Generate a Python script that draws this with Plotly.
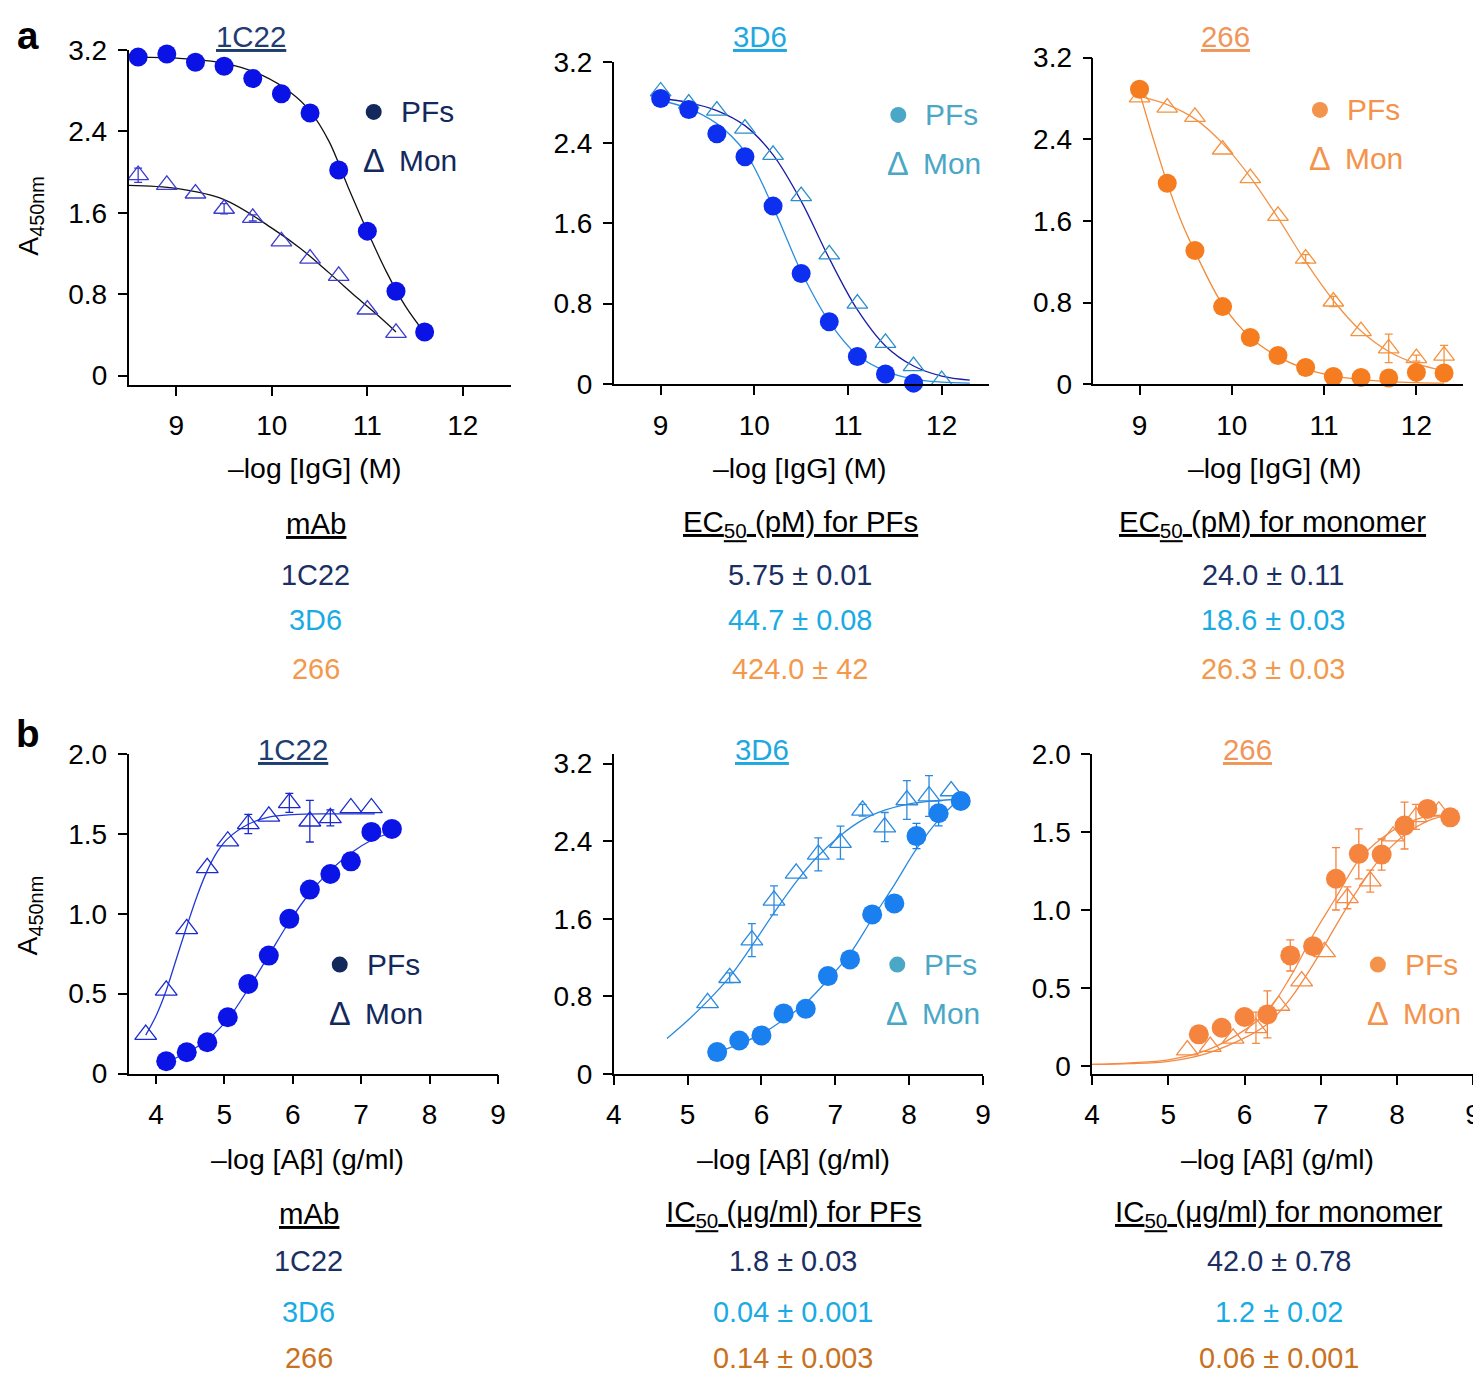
import plotly.graph_objects as go

W, H = 1481, 1381
FONT = "Liberation Sans, Arial, sans-serif"

# ============================================================
# DATA
# ============================================================
# --- panel a: -log [IgG] (M) ---
a1_pf_x = [8.6, 8.9, 9.2, 9.5, 9.8, 10.1, 10.4, 10.7, 11.0, 11.3, 11.6]
a1_pf_y = [3.13, 3.16, 3.08, 3.04, 2.92, 2.77, 2.58, 2.02, 1.42, 0.83, 0.43]
a1_pf_err = [0, 0, 0, 0, 0, 0, 0, 0, 0, 0, 0]
a1_mon_x = [8.6, 8.9, 9.2, 9.5, 9.8, 10.1, 10.4, 10.7, 11.0, 11.3]
a1_mon_y = [1.97, 1.875, 1.79, 1.64, 1.55, 1.32, 1.15, 0.98, 0.65, 0.42]
a1_mon_err = [0.07, 0, 0, 0.05, 0.03, 0, 0, 0, 0, 0]
a1_pf_fit_x = [8.5, 9.0, 9.5, 9.9, 10.2, 10.4, 10.6, 10.8, 11.0, 11.2, 11.4, 11.6]
a1_pf_fit_y = [3.13, 3.12, 3.07, 2.95, 2.78, 2.6, 2.3, 1.85, 1.42, 1.02, 0.68, 0.42]
a1_mon_fit_x = [8.5, 9.0, 9.5, 10.0, 10.3, 10.6, 10.9, 11.1, 11.3]
a1_mon_fit_y = [1.87, 1.84, 1.73, 1.45, 1.25, 1.01, 0.76, 0.6, 0.43]

a2_pf_x = [9.0, 9.3, 9.6, 9.9, 10.2, 10.5, 10.8, 11.1, 11.4, 11.7]
a2_pf_y = [2.84, 2.73, 2.49, 2.26, 1.77, 1.10, 0.62, 0.275, 0.10, 0.01]
a2_pf_err = [0, 0, 0, 0, 0, 0, 0, 0, 0, 0]
a2_mon_x = [9.0, 9.3, 9.6, 9.9, 10.2, 10.5, 10.8, 11.1, 11.4, 11.7, 12.0]
a2_mon_y = [2.91, 2.79, 2.72, 2.54, 2.28, 1.87, 1.29, 0.80, 0.41, 0.18, 0.04]
a2_mon_err = [0, 0, 0, 0, 0, 0, 0, 0, 0, 0, 0]
a2_pf_fit_x = [9.0, 9.3, 9.6, 9.9, 10.2, 10.5, 10.8, 11.1, 11.4, 11.7, 12.0, 12.3]
a2_pf_fit_y = [2.82, 2.74, 2.59, 2.31, 1.76, 1.12, 0.62, 0.29, 0.13, 0.05, 0.02, 0.01]
a2_mon_fit_x = [9.0, 9.3, 9.6, 9.9, 10.2, 10.5, 10.8, 11.1, 11.4, 11.7, 12.0, 12.3]
a2_mon_fit_y = [2.84, 2.80, 2.72, 2.57, 2.28, 1.82, 1.25, 0.74, 0.38, 0.18, 0.08, 0.04]

a3_pf_x = [9.0, 9.3, 9.6, 9.9, 10.2, 10.5, 10.8, 11.1, 11.4, 11.7, 12.0, 12.3]
a3_pf_y = [2.89, 1.97, 1.31, 0.76, 0.457, 0.28, 0.163, 0.075, 0.065, 0.06, 0.115, 0.11]
a3_pf_err = [0, 0.05, 0.05, 0, 0, 0, 0, 0, 0, 0, 0, 0]
a3_mon_x = [9.0, 9.3, 9.6, 9.9, 10.2, 10.5, 10.8, 11.1, 11.4, 11.7, 12.0, 12.3]
a3_mon_y = [2.81, 2.71, 2.62, 2.30, 2.02, 1.65, 1.23, 0.81, 0.52, 0.35, 0.255, 0.28]
a3_mon_err = [0, 0, 0, 0, 0, 0, 0.04, 0.05, 0, 0.14, 0.03, 0.1]
a3_pf_fit_x = [9.0, 9.15, 9.3, 9.45, 9.6, 9.9, 10.2, 10.5, 10.8, 11.1, 11.4, 11.7, 12.0, 12.3]
a3_pf_fit_y = [2.86, 2.4, 1.97, 1.6, 1.3, 0.78, 0.46, 0.27, 0.15, 0.08, 0.045, 0.025, 0.015, 0.01]
a3_mon_fit_x = [9.0, 9.3, 9.6, 9.9, 10.2, 10.5, 10.8, 11.1, 11.4, 11.7, 12.0, 12.3]
a3_mon_fit_y = [2.82, 2.74, 2.6, 2.36, 2.03, 1.63, 1.2, 0.82, 0.52, 0.32, 0.2, 0.13]

# --- panel b: -log [Abeta] (g/ml) ---
b1_pf_x = [4.15, 4.45, 4.75, 5.05, 5.35, 5.65, 5.95, 6.25, 6.55, 6.85, 7.15, 7.45]
b1_pf_y = [0.077, 0.133, 0.196, 0.352, 0.56, 0.738, 0.968, 1.151, 1.249, 1.328, 1.512, 1.531]
b1_pf_err = [0, 0, 0, 0, 0, 0, 0, 0, 0.04, 0.05, 0, 0]
b1_mon_x = [3.85, 4.15, 4.45, 4.75, 5.05, 5.35, 5.65, 5.95, 6.25, 6.55, 6.85, 7.15]
b1_mon_y = [0.244, 0.52, 0.905, 1.287, 1.454, 1.562, 1.61, 1.694, 1.579, 1.6, 1.662, 1.662]
b1_mon_err = [0, 0, 0, 0, 0, 0.06, 0, 0.06, 0.13, 0.05, 0, 0]
b1_pf_fit_x = [4.15, 4.45, 4.75, 5.05, 5.35, 5.65, 5.95, 6.25, 6.55, 6.85, 7.15, 7.45]
b1_pf_fit_y = [0.07, 0.13, 0.21, 0.34, 0.53, 0.74, 0.95, 1.13, 1.27, 1.38, 1.46, 1.51]
b1_mon_fit_x = [3.85, 4.0, 4.15, 4.3, 4.45, 4.6, 4.75, 4.9, 5.05, 5.35, 5.65, 6.0, 6.5, 7.2]
b1_mon_fit_y = [0.24, 0.36, 0.52, 0.72, 0.92, 1.11, 1.27, 1.39, 1.47, 1.56, 1.605, 1.62, 1.625, 1.625]

b2_pf_x = [5.4, 5.7, 6.0, 6.3, 6.6, 6.9, 7.2, 7.5, 7.8, 8.1, 8.4, 8.7]
b2_pf_y = [0.224, 0.344, 0.396, 0.623, 0.671, 1.008, 1.18, 1.645, 1.758, 2.453, 2.688, 2.815]
b2_pf_err = [0, 0, 0, 0, 0, 0, 0, 0, 0, 0.13, 0.13, 0]
b2_mon_x = [5.27, 5.57, 5.87, 6.17, 6.47, 6.77, 7.07, 7.37, 7.67, 7.97, 8.27, 8.57]
b2_mon_y = [0.733, 0.991, 1.38, 1.789, 2.068, 2.264, 2.385, 2.719, 2.546, 2.825, 2.866, 2.918]
b2_mon_err = [0, 0.05, 0.17, 0.15, 0, 0.17, 0.17, 0.06, 0.15, 0.2, 0.21, 0]
b2_pf_fit_x = [5.4, 5.7, 6.0, 6.3, 6.6, 6.9, 7.2, 7.5, 7.8, 8.1, 8.4, 8.7]
b2_pf_fit_y = [0.22, 0.31, 0.41, 0.56, 0.73, 0.97, 1.24, 1.6, 1.95, 2.32, 2.62, 2.85]
b2_mon_fit_x = [4.72, 5.0, 5.27, 5.57, 5.87, 6.17, 6.47, 6.77, 7.07, 7.37, 7.67, 7.97, 8.27, 8.6]
b2_mon_fit_y = [0.365, 0.55, 0.75, 1.0, 1.32, 1.66, 1.98, 2.25, 2.46, 2.62, 2.72, 2.78, 2.81, 2.83]

b3_pf_x = [5.4, 5.7, 6.0, 6.3, 6.6, 6.9, 7.2, 7.5, 7.8, 8.1, 8.4, 8.7]
b3_pf_y = [0.203, 0.245, 0.314, 0.331, 0.709, 0.768, 1.2, 1.36, 1.355, 1.541, 1.648, 1.594]
b3_pf_err = [0, 0, 0, 0.15, 0.1, 0, 0.2, 0.16, 0.1, 0.15, 0, 0]
b3_mon_x = [5.25, 5.55, 5.85, 6.15, 6.45, 6.75, 7.05, 7.35, 7.65, 7.95, 8.25, 8.55]
b3_mon_y = [0.102, 0.124, 0.177, 0.245, 0.388, 0.544, 0.732, 1.078, 1.185, 1.473, 1.597, 1.633]
b3_mon_err = [0, 0, 0, 0.1, 0, 0, 0, 0.07, 0.07, 0, 0.08, 0]
b3_pf_fit_x = [4.0, 4.5, 5.0, 5.5, 6.0, 6.3, 6.6, 6.9, 7.2, 7.5, 7.8, 8.1, 8.4, 8.7]
b3_pf_fit_y = [0.01, 0.02, 0.04, 0.1, 0.23, 0.35, 0.57, 0.84, 1.08, 1.32, 1.46, 1.55, 1.6, 1.61]
b3_mon_fit_x = [4.0, 4.5, 5.0, 5.5, 6.0, 6.3, 6.6, 6.9, 7.2, 7.5, 7.8, 8.1, 8.4, 8.6]
b3_mon_fit_y = [0.01, 0.015, 0.03, 0.08, 0.18, 0.27, 0.43, 0.65, 0.9, 1.14, 1.34, 1.48, 1.57, 1.6]

# --- tables ---
mabs = ["1C22", "3D6", "266"]
ec50_pf = ["5.75 ± 0.01", "44.7 ± 0.08", "424.0 ± 42"]
ec50_mon = ["24.0 ± 0.11", "18.6 ± 0.03", "26.3 ± 0.03"]
ic50_pf = ["1.8 ± 0.03", "0.04 ± 0.001", "0.14 ± 0.003"]
ic50_mon = ["42.0 ± 0.78", "1.2 ± 0.02", "0.06 ± 0.001"]

# ============================================================
# COLOURS / LAYOUT
# ============================================================
NAVY, SKY, ORANGE = "#1b2f63", "#1aabe4", "#f3994c"
ORANGE_DARK = "#c8711f"
LEG = {"1C22": "#13295c", "3D6": "#4aa7c6", "266": "#f4934b"}
TITLE_C = {"1C22": "#1f3d70", "3D6": "#1fa8e0", "266": "#f0965a"}

# positions below are measured on the target picture; the page capture shifts
# and shrinks the figure a little, so map them back before placing anything
OX, OY, KX, KY = 15.0, 23.0, 0.99, 0.978
FS = 1.0 / 0.985

# panel boxes (target px): x0, x1, ytop, ybottom
panels = [
    dict(box=(127.7, 510, 50, 385), xr=[8.5, 12.5], yr=[-0.09, 3.2], xt=[9, 10, 11, 12],
         yt=[0, 0.8, 1.6, 2.4, 3.2], ytt=["0", "0.8", "1.6", "2.4", "3.2"]),
    dict(box=(613.3, 988.3, 62.3, 384.3), xr=[8.5, 12.5], yr=[0, 3.2], xt=[9, 10, 11, 12],
         yt=[0, 0.8, 1.6, 2.4, 3.2], ytt=["0", "0.8", "1.6", "2.4", "3.2"]),
    dict(box=(1093.3, 1462.7, 57.7, 384.3), xr=[8.5, 12.5], yr=[0, 3.2], xt=[9, 10, 11, 12],
         yt=[0, 0.8, 1.6, 2.4, 3.2], ytt=["0", "0.8", "1.6", "2.4", "3.2"]),
    dict(box=(127.7, 497.3, 754.3, 1074), xr=[3.6, 9], yr=[0, 2.0], xt=[4, 5, 6, 7, 8, 9],
         yt=[0, 0.5, 1, 1.5, 2], ytt=["0", "0.5", "1.0", "1.5", "2.0"]),
    dict(box=(613.3, 982.7, 754.3, 1074.3), xr=[4, 9], yr=[0, 3.3], xt=[4, 5, 6, 7, 8, 9],
         yt=[0, 0.8, 1.6, 2.4, 3.2], ytt=["0", "0.8", "1.6", "2.4", "3.2"]),
    dict(box=(1092, 1473.3, 754.3, 1074.3), xr=[4, 9], yr=[-0.05, 2.0], xt=[4, 5, 6, 7, 8, 9],
         yt=[0, 0.5, 1, 1.5, 2], ytt=["0", "0.5", "1.0", "1.5", "2.0"]),
]

series = [
    (a1_pf_x, a1_pf_y, a1_pf_err, a1_mon_x, a1_mon_y, a1_mon_err,
     a1_pf_fit_x, a1_pf_fit_y, a1_mon_fit_x, a1_mon_fit_y,
     "#0b12e6", "#3c3cd0", "#111111", "#111111"),
    (a2_pf_x, a2_pf_y, a2_pf_err, a2_mon_x, a2_mon_y, a2_mon_err,
     a2_pf_fit_x, a2_pf_fit_y, a2_mon_fit_x, a2_mon_fit_y,
     "#0d2ff0", "#2a8ec8", "#2b8fe0", "#1c1caa"),
    (a3_pf_x, a3_pf_y, a3_pf_err, a3_mon_x, a3_mon_y, a3_mon_err,
     a3_pf_fit_x, a3_pf_fit_y, a3_mon_fit_x, a3_mon_fit_y,
     "#f57c1f", "#f5923e", "#f28a35", "#f39248"),
    (b1_pf_x, b1_pf_y, b1_pf_err, b1_mon_x, b1_mon_y, b1_mon_err,
     b1_pf_fit_x, b1_pf_fit_y, b1_mon_fit_x, b1_mon_fit_y,
     "#0b14e6", "#1a2ad0", "#2038d8", "#2038d8"),
    (b2_pf_x, b2_pf_y, b2_pf_err, b2_mon_x, b2_mon_y, b2_mon_err,
     b2_pf_fit_x, b2_pf_fit_y, b2_mon_fit_x, b2_mon_fit_y,
     "#1a80f0", "#2a8ae0", "#2a8ae0", "#2a8ae0"),
    (b3_pf_x, b3_pf_y, b3_pf_err, b3_mon_x, b3_mon_y, b3_mon_err,
     b3_pf_fit_x, b3_pf_fit_y, b3_mon_fit_x, b3_mon_fit_y,
     "#f5843f", "#f58a45", "#f58a45", "#f58a45"),
]


def fx(x):
    return (x - OX) / KX


def fy(y):
    return (y - OY) / KY


def px(x):
    return fx(x) / W


def py(y):
    return 1 - fy(y) / H


fig = go.Figure()
annotations = []
shapes = []


def ann(text, x, y, size=26, color="black", xanchor="center", yanchor="middle", angle=0, raw=False):
    # raw=True -> x, y already in figure px
    xp = x / W if raw else px(x)
    yp = 1 - y / H if raw else py(y)
    annotations.append(dict(text=text, x=xp, y=yp, xref="paper", yref="paper",
                            showarrow=False, xanchor=xanchor, yanchor=yanchor, textangle=angle,
                            font=dict(family=FONT, size=round(size * FS, 1), color=color)))


def err_trace(xs, ys, es, color, ax):
    idx = [i for i, e in enumerate(es) if e > 0]
    if not idx:
        return
    fig.add_trace(go.Scatter(x=[xs[i] for i in idx], y=[ys[i] for i in idx], mode="markers",
                             marker=dict(size=1, opacity=0),
                             error_y=dict(type="data", array=[es[i] for i in idx], color=color,
                                          thickness=1.3, width=4),
                             xaxis="x" + ax, yaxis="y" + ax, showlegend=False, cliponaxis=False))


for n, (p, s) in enumerate(zip(panels, series), start=1):
    ax = "" if n == 1 else str(n)
    (pfx, pfy, pfe, mx, my, me, pfx_fit, pfy_fit, mx_fit, my_fit,
     c_dot, c_tri, c_pfline, c_monline) = s
    x0, x1, yt, yb = p["box"]
    fig.layout["xaxis" + ax] = dict(domain=[px(x0), px(x1)], range=p["xr"], anchor="y" + ax,
                                    showline=True, linecolor="black", linewidth=1.6, ticks="outside",
                                    ticklen=9, tickwidth=1.6, tickcolor="black", tickvals=p["xt"],
                                    showgrid=False, zeroline=False, ticklabelstandoff=6,
                                    tickfont=dict(family=FONT, size=28, color="black"))
    fig.layout["yaxis" + ax] = dict(domain=[py(yb), py(yt)], range=p["yr"], anchor="x" + ax,
                                    showline=True, linecolor="black", linewidth=1.6, ticks="outside",
                                    ticklen=9, tickwidth=1.6, tickcolor="black", tickvals=p["yt"],
                                    ticktext=p["ytt"], showgrid=False, zeroline=False,
                                    ticklabelstandoff=5,
                                    tickfont=dict(family=FONT, size=28, color="black"))
    fig.add_trace(go.Scatter(x=mx_fit, y=my_fit, mode="lines", line=dict(color=c_monline, width=1.3, shape="spline"),
                             xaxis="x" + ax, yaxis="y" + ax, showlegend=False))
    fig.add_trace(go.Scatter(x=pfx_fit, y=pfy_fit, mode="lines", line=dict(color=c_pfline, width=1.3, shape="spline"),
                             xaxis="x" + ax, yaxis="y" + ax, showlegend=False))
    err_trace(mx, my, me, c_tri, ax)
    err_trace(pfx, pfy, pfe, c_dot, ax)
    dsize = 19 if n <= 3 else 20
    fig.add_trace(go.Scatter(x=mx, y=my, mode="markers",
                             marker=dict(symbol="triangle-up-open", size=dsize - 1, color=c_tri,
                                         line=dict(width=1.3, color=c_tri)),
                             xaxis="x" + ax, yaxis="y" + ax, showlegend=False, cliponaxis=False))
    fig.add_trace(go.Scatter(x=pfx, y=pfy, mode="markers",
                             marker=dict(symbol="circle", size=dsize, color=c_dot, line=dict(width=0)),
                             xaxis="x" + ax, yaxis="y" + ax, showlegend=False, cliponaxis=False))

# ---- panel titles, legends, axis titles
names = ["1C22", "3D6", "266"]
title_pos = [(250, 37), (760, 37), (1225, 37), (292, 750), (762, 750), (1247, 750)]
legend_pos = [(373, 112), (898, 115), (1320, 110), (339, 965), (897, 965), (1378, 965)]
for i, (tx, ty) in enumerate(title_pos):
    nm = names[i % 3]
    ann("<u>%s</u>" % nm, tx, ty, size=29, color=TITLE_C[nm])
    lx, ly = legend_pos[i]
    r = 8
    shapes.append(dict(type="circle", xref="paper", yref="paper", x0=px(lx - r), x1=px(lx + r),
                       y0=py(ly + r), y1=py(ly - r), fillcolor=LEG[nm], line=dict(width=0)))
    ann("PFs", lx + 25, ly, size=29.5, color=LEG[nm], xanchor="left")
    ann("Δ", lx, ly + 49, size=32, color=LEG[nm])
    ann("Mon", lx + 23, ly + 49, size=29.5, color=LEG[nm], xanchor="left")

for cx in [314, 800, 1275]:
    ann("–log [IgG] (M)", cx, 468, size=28)
for cx in [307, 793, 1278]:
    ann("–log [Aβ] (g/ml)", cx, 1160, size=28)

ann("A<sub>450nm</sub>", 14, fy(216), size=28, angle=-90, raw=True)
ann("A<sub>450nm</sub>", 13, fy(916), size=28, angle=-90, raw=True)
ann("<b>a</b>", 12, 13, size=38, raw=True)
ann("<b>b</b>", 12, fy(734), size=38, raw=True)

# ---- tables
row_colors = [NAVY, SKY, ORANGE]
ann("<u>mAb</u>", 315, 524, size=29)
ann("<u>EC<sub>50</sub> (pM) for PFs</u>", 800, 524, size=29)
ann("<u>EC<sub>50</sub> (pM) for monomer</u>", 1273, 524, size=29)
for i, ry in enumerate([575, 620, 669]):
    ann(mabs[i], 315, ry, size=28.5, color=row_colors[i])
    ann(ec50_pf[i], 800, ry, size=28.5, color=row_colors[i])
    ann(ec50_mon[i], 1273, ry, size=28.5, color=row_colors[i])

row_colors_b = [NAVY, SKY, ORANGE_DARK]
ann("<u>mAb</u>", 308, 1214, size=29)
ann("<u>IC<sub>50</sub> (μg/ml) for PFs</u>", 793, 1214, size=29)
ann("<u>IC<sub>50</sub> (μg/ml) for monomer</u>", 1279, 1214, size=29)
for i, ry in enumerate([1262, 1313, 1359]):
    ann(mabs[i], 308, ry, size=28.5, color=row_colors_b[i])
    ann(ic50_pf[i], 793, ry, size=28.5, color=row_colors_b[i])
    ann(ic50_mon[i], 1279, ry, size=28.5, color=row_colors_b[i])

fig.update_layout(width=W, height=H, margin=dict(l=0, r=0, t=0, b=0),
                  paper_bgcolor="white", plot_bgcolor="white", showlegend=False,
                  annotations=annotations, shapes=shapes, font=dict(family=FONT))

fig.write_html("out.html")
